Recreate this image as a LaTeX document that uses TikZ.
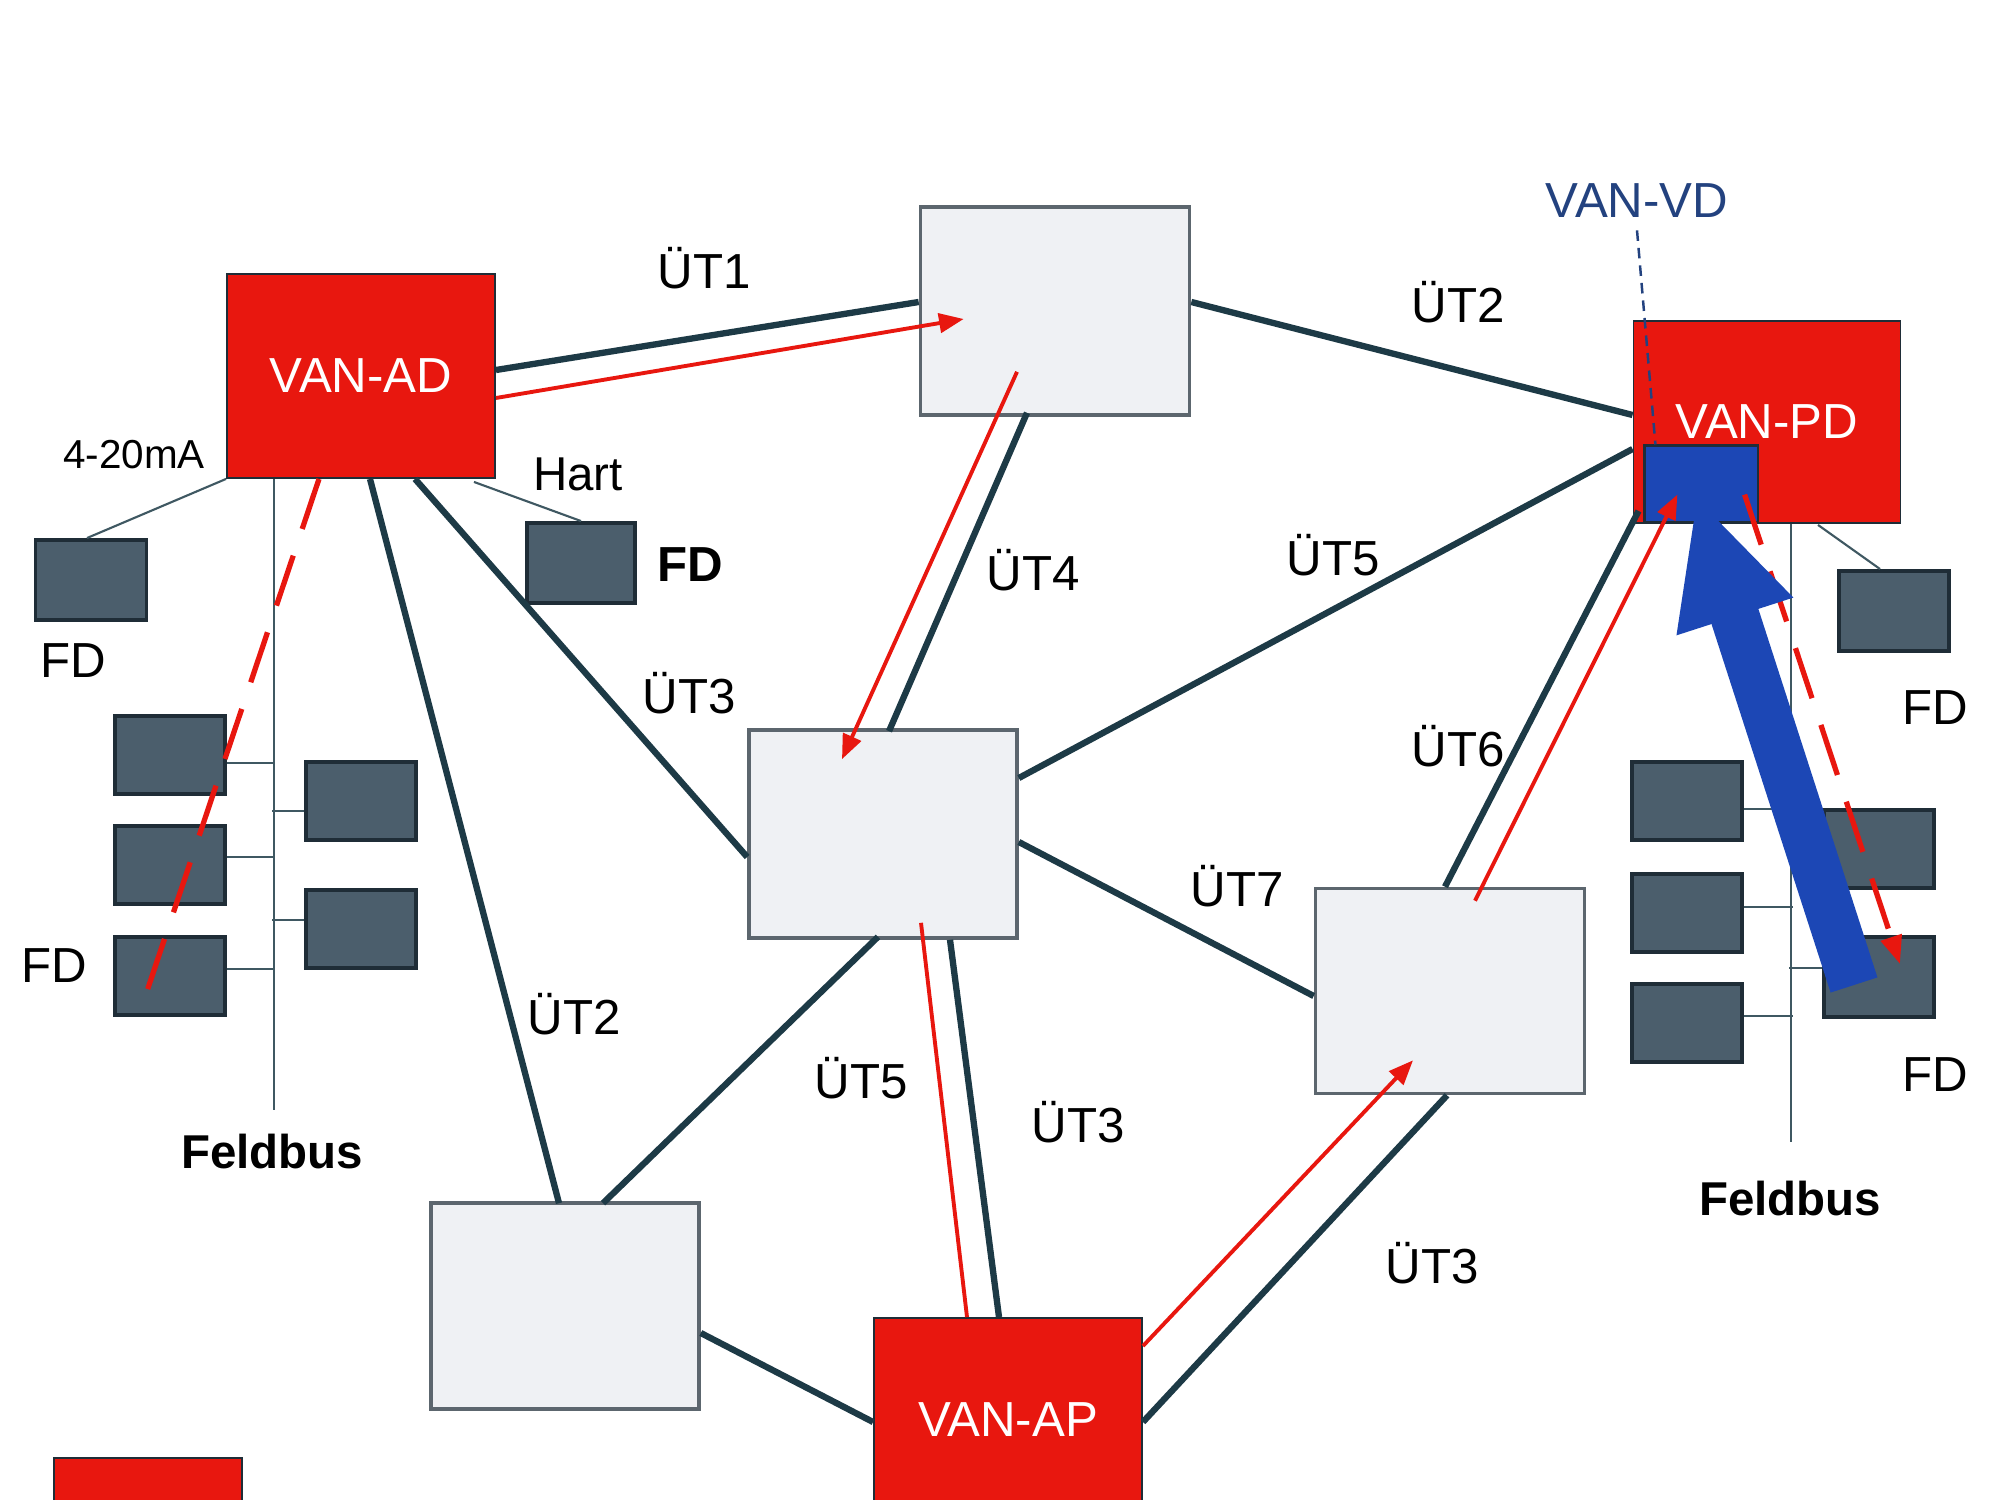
\documentclass[tikz,border=0pt]{standalone}
\usepackage{fontspec}
\setmainfont{Liberation Sans}
\usetikzlibrary{arrows.meta,calc}
\definecolor{vanred}{HTML}{E8170F}
\definecolor{linedark}{HTML}{1D3A46}
\definecolor{fdgray}{HTML}{4B5E6C}
\definecolor{fdedge}{HTML}{1F2D37}
\definecolor{boxgray}{HTML}{EFF1F4}
\definecolor{boxedge}{HTML}{5C666E}
\definecolor{vdblue}{HTML}{1C47B5}
\definecolor{vdtext}{HTML}{23427F}
\begin{document}
\begin{tikzpicture}[x=0.01cm, y=-0.01cm, font=\fontsize{14}{16}\selectfont,
    van/.style={draw=fdedge, line width=0.5pt, fill=vanred, text=white, minimum width=2.68cm, minimum height=2.04cm, inner sep=0pt},
    knot/.style={draw=boxedge, line width=1pt, fill=boxgray, minimum width=2.68cm, minimum height=2.06cm, inner sep=0pt},
    fd/.style={draw=fdedge, line width=1.1pt, fill=fdgray, minimum width=1.1cm, minimum height=0.78cm, inner sep=0pt},
    link/.style={draw=linedark, line width=1.8pt},
    flow/.style={draw=vanred, line width=1.1pt, -{Triangle[length=7pt,width=5.5pt]}},
    flowdash/.style={draw=vanred, line width=1.5pt, dash pattern=on 15pt off 8pt},
    bus/.style={draw=linedark!85, line width=0.6pt},
    bigarrow/.style={draw=vdblue, line width=14pt, -{Triangle[length=36pt,width=32pt]}}]
    \useasboundingbox (0,0) rectangle (2000,1500);
    \clip (0,0) rectangle (2000,1500);
    \fill[white] (0,0) rectangle (2000,1500);

    % Knoten und Dienste
    \node[van] (ad) at (361,376) {VAN-AD};
    \node[van, minimum width=2.67cm, minimum height=2.02cm] (pd) at (1767,422) {VAN-PD};
    \node[van] (ap) at (1008,1420) {VAN-AP};
    \node[van, minimum width=1.88cm, minimum height=1cm] (leg) at (148,1508) {};
    \node[draw=fdedge, line width=0.6pt, fill=vdblue, minimum width=1.13cm, minimum height=0.77cm] (vd) at (1701,484) {};
    \node[knot, minimum width=2.69cm, minimum height=2.08cm] (kn1) at (1055,311) {};
    \node[knot, minimum height=2.08cm] (kn2) at (883,834) {};
    \node[knot, minimum width=2.69cm, minimum height=2.05cm] (kn3) at (1450,991) {};
    \node[knot] (kn4) at (565,1306) {};

    % Feldgeraete
    \node[fd, minimum width=1.11cm, minimum height=0.8cm] (fdl1) at (91,580) {};
    \node[fd, minimum width=1.08cm, minimum height=0.8cm] (fdl2) at (581,563) {};
    \node[fd] (fda) at (170,755) {};
    \node[fd] (fdb) at (170,865) {};
    \node[fd] (fdc) at (170,976) {};
    \node[fd] (fdd) at (361,801) {};
    \node[fd] (fde) at (361,929) {};
    \node[fd, minimum height=0.8cm] (fdr1) at (1894,611) {};
    \node[fd] (fdf) at (1687,801) {};
    \node[fd] (fdg) at (1687,913) {};
    \node[fd] (fdh) at (1687,1023) {};
    \node[fd] (fdi) at (1879,849) {};
    \node[fd, minimum height=0.8cm] (fdj) at (1879,977) {};

    % Feldbus links und rechts
    \coordinate (lbus) at (274,1110);
    \coordinate (rbus) at (1791,1142);
    \draw[bus] (ad.south -| lbus) -- (lbus);
    \draw[bus] (pd.south -| rbus) -- (rbus);
    \draw[bus] ($(fda.east)+(0,8)$) -- +(48,0);
    \draw[bus] ($(fdb.east)+(0,-8)$) -- +(48,0);
    \draw[bus] ($(fdc.east)+(0,-7)$) -- +(48,0);
    \draw[bus] ($(fdd.west)+(0,10)$) -- +(-32,0);
    \draw[bus] ($(fde.west)+(0,-9)$) -- +(-32,0);
    \draw[bus] ($(fdf.east)+(0,8)$) -- +(49,0);
    \draw[bus] ($(fdg.east)+(0,-6)$) -- +(49,0);
    \draw[bus] ($(fdh.east)+(0,-7)$) -- +(49,0);
    \draw[bus] (fdi.west) -- +(-33,0);
    \draw[bus] ($(fdj.west)+(0,-9)$) -- +(-33,0);
    \draw[bus] (ad.south west) -- ($(fdl1.north)+(-4,0)$);
    \draw[bus] ($(ad.south east)+(-22,3)$) -- (fdl2.north);
    \draw[bus] ($(pd.south)+(51,1)$) -- ($(fdr1.north)+(-14,0)$);

    % Uebertragungswege
    \draw[link] ($(ad.east)+(0,-6)$) -- ($(kn1.west)+(0,-9)$);
    \draw[link] ($(kn1.east)+(0,-9)$) -- ($(pd.west)+(0,-7)$);
    \draw[link] ($(kn1.south)+(-28,-4)$) -- ($(kn2.north)+(6,3)$);
    \draw[link] ($(ad.south)+(54,0)$) -- ($(kn2.west)+(0,23)$);
    \draw[link] ($(ad.south)+(9,0)$) -- ($(kn4.north)+(-6,2)$);
    \draw[link] ($(kn2.east)+(0,-56)$) -- ($(pd.west)+(0,27)$);
    \draw[link] ($(kn2.east)+(0,8)$) -- ($(kn3.west)+(0,5)$);
    \draw[link] ($(kn2.south)+(-5,-3)$) -- ($(kn4.north)+(38,2)$);
    \draw[link] ($(kn2.south)+(67,0)$) -- ($(ap.north)+(-9,0)$);
    \draw[link] ($(kn4.east)+(0,27)$) -- ($(ap.west)+(0,2)$);
    \draw[link] ($(ap.east)+(0,2)$) -- ($(kn3.south)+(-3,0)$);
    \draw[link] ($(kn3.north)+(-5,0)$) -- ($(pd.south west)+(6,-13)$);

    % Datenfluss
    \draw[flow] ($(ad.east)+(0,22)$) -- ($(kn1.west)+(45,8)$);
    \draw[flow] ($(kn1.south)+(-38,-45)$) -- ($(kn2.north)+(-41,31)$);
    \draw[flow, -] ($(kn2.south)+(38,-17)$) -- ($(ap.north)+(-41,0)$);
    \draw[flow] ($(ap.east)+(0,-74)$) -- ($(kn3.south)+(-37,-35)$);
    \draw[flow] ($(kn3.north)+(25,14)$) -- ($(vd.south west)+(34,-29)$);
    \draw[flowdash] ($(ad.south)+(-42,0)$) -- ($(fdc.center)+(-26,24)$);
    \draw[flowdash, -{Triangle[length=8pt,width=6pt]}] ($(vd.south east)+(-14,-29)$) -- ($(fdj.center)+(21,-13)$);
    \draw[bigarrow] ($(fdj.center)+(-25,8)$) -- ($(vd.center)+(-5,12)$);

    % Beschriftung
    \node[text=vdtext] (vdlab) at (1637,201) {VAN-VD};
    \draw[vdtext, line width=0.7pt, dash pattern=on 3pt off 2pt] (vdlab.south) -- ($(vd.north west)+(12,0)$);
    \node (ut1) at (704,268) {ÜT1};
    \node (ut2a) at (1458,302) {ÜT2};
    \node (ut4) at (1033,570) {ÜT4};
    \node (ut3a) at (689,693) {ÜT3};
    \node (ut2b) at (574,1014) {ÜT2};
    \node (ut5a) at (1333,555) {ÜT5};
    \node (ut7) at (1237,886) {ÜT7};
    \node (ut5b) at (861,1078) {ÜT5};
    \node (ut3b) at (1078,1122) {ÜT3};
    \node (ut3c) at (1432,1263) {ÜT3};
    \node (ut6) at (1458,746) {ÜT6};
    \node[font=\fontsize{11.5}{13}\selectfont] (ma) at (134,455) {4-20mA};
    \node[font=\fontsize{13.5}{15}\selectfont] (hart) at (578,474) {Hart};
    \node (fdt1) at (73,661) {FD};
    \node[font=\fontsize{14}{16}\selectfont\bfseries] (fdt2) at (690,565) {FD};
    \node (fdt3) at (54,966) {FD};
    \node (fdt4) at (1935,708) {FD};
    \node (fdt5) at (1935,1075) {FD};
    \node[font=\fontsize{13.5}{15}\selectfont\bfseries] (fb1) at (272,1152) {Feldbus};
    \node[font=\fontsize{13.5}{15}\selectfont\bfseries] (fb2) at (1790,1199) {Feldbus};
\end{tikzpicture}
\end{document}
